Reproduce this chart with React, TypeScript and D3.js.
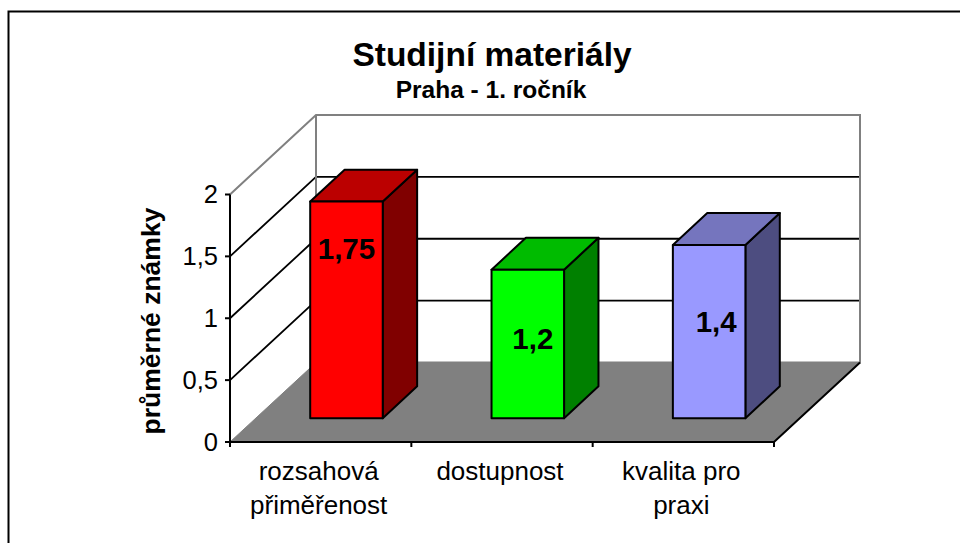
import React from "react";
import { scaleBand, scaleLinear, line } from "d3";

const categories = [["rozsahová", "přiměřenost"], ["dostupnost"], ["kvalita pro", "praxi"]];
const values = [1.75, 1.2, 1.4];
const valueLabels = ["1,75", "1,2", "1,4"];
const yTicks = [0, 0.5, 1, 1.5, 2];
const yTickLabels = ["0", "0,5", "1", "1,5", "2"];
const frontColors = ["#ff0000", "#00ff00", "#9999ff"];
const topColors = ["#bb0000", "#00bb00", "#7575be"];
const sideColors = ["#800000", "#008000", "#4d4d80"];

const FONT = "'Liberation Sans', Arial, sans-serif";
const WIDTH = 960;
const HEIGHT = 543;

// front plane of the 3d box and how far the back wall is shifted
const x0 = 230;
const x1 = 774;
const y0 = 442;
const y2 = 194.5;
const depthX = 86;
const depthY = -79.5;
const barDepthFront = 0.3;
const barDepthBack = 0.7;

// where the labels sit on each bar: value height and px nudge
const labelAt = [
  { v: 1.36, dx: 0 },
  { v: 0.63, dx: 5 },
  { v: 0.77, dx: 7 },
];

const xScale = scaleBand<number>()
  .domain(values.map((_, i) => i))
  .range([x0, x1])
  .paddingInner(0.6)
  .paddingOuter(0.3);
const xEdges = scaleLinear().domain([0, categories.length]).range([x0, x1]);
const yScale = scaleLinear().domain([0, 2]).range([y0, y2]);

// x is along the front axis, v is value, d is depth 0..1
const project = (x: number, v: number, d: number): [number, number] => [
  x + depthX * d,
  yScale(v) + depthY * d,
];
const path = line();
const poly = (pts: [number, number][]) => path(pts) + "Z";

export default function App() {
  const bw = xScale.bandwidth();
  return (
    <svg
      width={WIDTH}
      height={HEIGHT}
      style={{ position: "fixed", left: 0, top: 0, background: "#fff" }}
      fontFamily={FONT}
    >
      {/* outer frame, right and bottom run off the picture */}
      <path d={`M8.5,${HEIGHT}V11.5H${WIDTH}`} fill="none" stroke="#000" strokeWidth={2} />

      <text x={492} y={66} textAnchor="middle" fontSize={33.5} fontWeight="bold">Studijní materiály</text>
      <text x={491} y={98} textAnchor="middle" fontSize={24.5} fontWeight="bold">Praha - 1. ročník</text>

      {/* floor */}
      <path
        d={poly([project(x0, 0, 0), project(x1, 0, 0), project(x1, 0, 1), project(x0, 0, 1)])}
        fill="#808080"
        stroke="#808080"
      />

      {/* gridlines on back and side wall */}
      {yTicks.slice(1, -1).map((t) => (
        <path
          key={t}
          d={path([project(x0, t, 0), project(x0, t, 1), project(x1, t, 1)]) ?? ""}
          fill="none"
          stroke="#000"
          strokeWidth={1.8}
        />
      ))}
      <path
        d={path([project(x0, 2, 0), project(x0, 2, 1), project(x1, 2, 1), project(x1, 0, 1), project(x0, 0, 1), project(x0, 2, 1)]) ?? ""}
        fill="none"
        stroke="#808080"
        strokeWidth={2}
      />

      {/* axes */}
      <path d={path([project(x0, 2, 0), project(x0, 0, 0), project(x1, 0, 0), project(x1, 0, 1)]) ?? ""} fill="none" stroke="#000" strokeWidth={2} />
      {yTicks.map((t, i) => (
        <g key={t}>
          <line x1={x0 - 5} x2={x0} y1={yScale(t)} y2={yScale(t)} stroke="#000" strokeWidth={2} />
          <text x={218} y={yScale(t) + 8.5} textAnchor="end" fontSize={25.5}>{yTickLabels[i]}</text>
        </g>
      ))}
      {[0, 1, 2, 3].map((i) => (
        <line key={i} x1={xEdges(i)} x2={xEdges(i)} y1={y0} y2={y0 + 5} stroke="#000" strokeWidth={2} />
      ))}
      {categories.map((lines, i) => (
        <text key={i} textAnchor="middle" fontSize={26}>
          {lines.map((l, j) => (
            <tspan key={j} x={(xEdges(i) + xEdges(i + 1)) / 2 - 2} y={480 + j * 34}>{l}</tspan>
          ))}
        </text>
      ))}
      <text
        transform="translate(160,321) rotate(-90)"
        textAnchor="middle"
        fontSize={26.5}
        fontWeight="bold"
      >
        průměrné známky
      </text>

      {/* bars */}
      {values.map((v, i) => {
        const l = xScale(i) as number;
        const r = l + bw;
        const f = barDepthFront;
        const b = barDepthBack;
        const stroke = { stroke: "#000", strokeWidth: 2, strokeLinejoin: "round" as const };
        return (
          <g key={i}>
            <path d={poly([project(r, 0, f), project(r, 0, b), project(r, v, b), project(r, v, f)])} fill={sideColors[i]} {...stroke} />
            <path d={poly([project(l, v, f), project(r, v, f), project(r, v, b), project(l, v, b)])} fill={topColors[i]} {...stroke} />
            <path d={poly([project(l, 0, f), project(r, 0, f), project(r, v, f), project(l, v, f)])} fill={frontColors[i]} {...stroke} />
            <text
              x={project((l + r) / 2, labelAt[i].v, f)[0] + labelAt[i].dx}
              y={project(l, labelAt[i].v, f)[1] + 9}
              textAnchor="middle"
              fontSize={29.5}
              fontWeight="bold"
            >
              {valueLabels[i]}
            </text>
          </g>
        );
      })}
    </svg>
  );
}
